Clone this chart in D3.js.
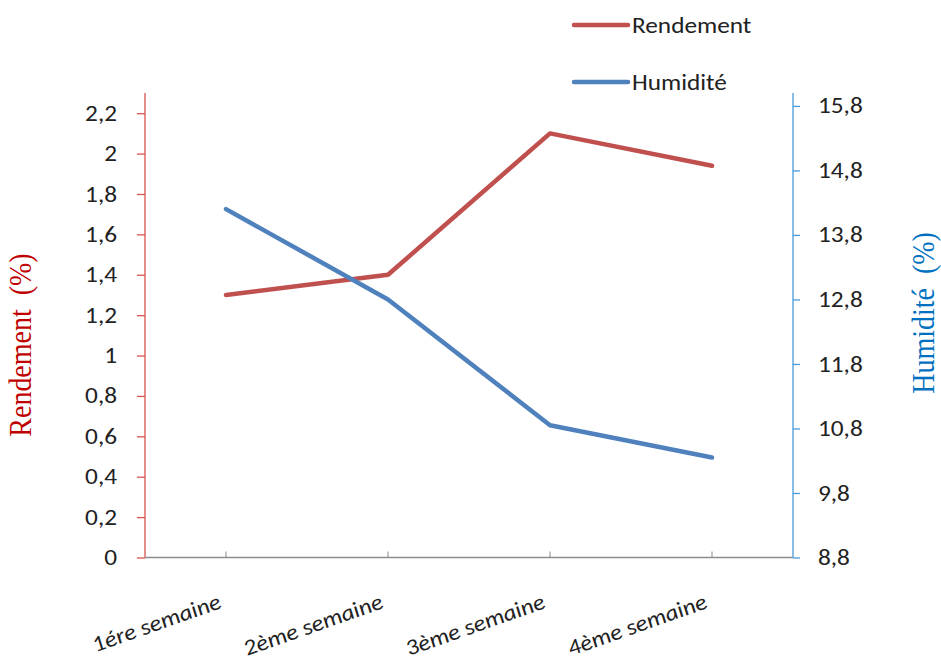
<!DOCTYPE html>
<html>
<head>
<meta charset="utf-8">
<script src="https://cdn.jsdelivr.net/npm/d3@7"></script>
<style>
  html, body { margin: 0; padding: 0; background: #fff; }
  svg { display: block; }
</style>
</head>
<body>
<svg id="chart" width="941" height="660"></svg>
<script>
// Weekly yield and moisture
const categories = ["1ére semaine", "2ème semaine", "3ème semaine", "4ème semaine"];
const rendement = [1.30, 1.40, 2.10, 1.94];
const humidite = [14.2, 12.8, 10.85, 10.35];
const leftTicks = [0, 0.2, 0.4, 0.6, 0.8, 1, 1.2, 1.4, 1.6, 1.8, 2, 2.2];
const rightTicks = [8.8, 9.8, 10.8, 11.8, 12.8, 13.8, 14.8, 15.8];

const SX = 1.15;                // horizontal stretch applied to text
const plot = { left: 145, right: 793, top: 93, bottom: 557.5 };
const RED = "#C0504D", BLUE = "#4F81BD";

const fr = d3.formatLocale({ decimal: ",", thousands: " ", grouping: [3], currency: ["", " €"] });
const fmtLeft = fr.format(".1~f");
const fmtRight = fr.format(".1f");

const svg = d3.select("#chart");
const font = "Calibri, Carlito, Lato, sans-serif";
const serif = "'Times New Roman', 'Liberation Serif', serif";

const x = d3.scaleBand().domain(categories).range([plot.left, plot.right]);
const yL = d3.scaleLinear().domain([0, 2.3]).range([plot.bottom, plot.top]);
const yR = d3.scaleLinear().domain([8.8, 16.0]).range([plot.bottom, plot.top]);
const cx = d => x(d) + x.bandwidth() / 2;

// x axis: baseline with small marks at each category
const gx = svg.append("g").attr("transform", `translate(0,${plot.bottom})`);
gx.append("line").attr("x1", plot.left).attr("x2", plot.right)
  .attr("stroke", "#8c8c8c").attr("stroke-width", 1.3);
gx.selectAll("line.tk").data(categories).join("line").attr("class", "tk")
  .attr("x1", d => cx(d)).attr("x2", d => cx(d)).attr("y1", 0).attr("y2", -6)
  .attr("stroke", "#8c8c8c").attr("stroke-width", 1);
gx.selectAll("text").data(categories).join("text")
  .attr("transform", d => `translate(${cx(d) - 3},${50}) scale(${SX},1) rotate(-22)`)
  .attr("text-anchor", "end")
  .attr("font-family", font).attr("font-style", "italic").attr("font-size", 22)
  .attr("fill", "#222").text(d => d);

// left axis (Rendement)
const gl = svg.append("g").attr("transform", `translate(${plot.left},0)`)
  .call(d3.axisLeft(yL).tickValues(leftTicks).tickFormat(fmtLeft).tickSize(8).tickSizeOuter(0));
gl.select(".domain").attr("stroke", "#D9534F").attr("stroke-width", 1.3)
  .attr("d", `M0,${plot.top}V${plot.bottom}`);
gl.selectAll(".tick line").attr("stroke", "#D9534F").attr("stroke-width", 1.3);
gl.selectAll(".tick text").attr("x", -28 / SX).attr("transform", `scale(${SX},1)`)
  .attr("font-family", font).attr("font-size", 22).attr("fill", "#222");

// right axis (Humidité)
const gr = svg.append("g").attr("transform", `translate(${plot.right},0)`)
  .call(d3.axisRight(yR).tickValues(rightTicks).tickFormat(fmtRight).tickSize(7).tickSizeOuter(0));
gr.select(".domain").attr("stroke", "#4A9BDC").attr("stroke-width", 1.3)
  .attr("d", `M0,${plot.top}V${plot.bottom}`);
gr.selectAll(".tick line").attr("stroke", "#4A9BDC").attr("stroke-width", 1.3);
gr.selectAll(".tick text").attr("x", 25 / SX).attr("transform", `scale(${SX},1)`)
  .attr("font-family", font).attr("font-size", 22).attr("fill", "#222");

// axis titles
svg.append("text")
  .attr("transform", `translate(31,345) scale(${SX},1) rotate(-90)`)
  .attr("text-anchor", "middle").attr("font-family", serif)
  .attr("font-size", 28).attr("fill", "#C00000").attr("xml:space", "preserve")
  .text("Rendement  (%)");
svg.append("text")
  .attr("transform", `translate(934,313) scale(${SX},1) rotate(-90)`)
  .attr("text-anchor", "middle").attr("font-family", serif)
  .attr("font-size", 28).attr("fill", "#0070C0").attr("xml:space", "preserve")
  .text("Humidité  (%)");

// series lines
const lineL = d3.line().x((d, i) => cx(categories[i])).y(d => yL(d));
const lineR = d3.line().x((d, i) => cx(categories[i])).y(d => yR(d));
svg.append("path").datum(rendement).attr("d", lineL)
  .attr("fill", "none").attr("stroke", RED).attr("stroke-width", 4.5)
  .attr("stroke-linejoin", "round").attr("stroke-linecap", "round");
svg.append("path").datum(humidite).attr("d", lineR)
  .attr("fill", "none").attr("stroke", BLUE).attr("stroke-width", 4.5)
  .attr("stroke-linejoin", "round").attr("stroke-linecap", "round");

// legend
const legend = [{ name: "Rendement", color: RED, y: 25 }, { name: "Humidité", color: BLUE, y: 82 }];
const lg = svg.append("g").selectAll("g").data(legend).join("g")
  .attr("transform", d => `translate(574,${d.y})`);
lg.append("line").attr("x1", 0).attr("x2", 54)
  .attr("stroke", d => d.color).attr("stroke-width", 4.5).attr("stroke-linecap", "round");
lg.append("text").attr("x", 58 / SX).attr("dy", "0.35em").attr("transform", `scale(${SX},1)`)
  .attr("font-family", font).attr("font-size", 22).attr("fill", "#222")
  .text(d => d.name);
</script>
</body>
</html>
